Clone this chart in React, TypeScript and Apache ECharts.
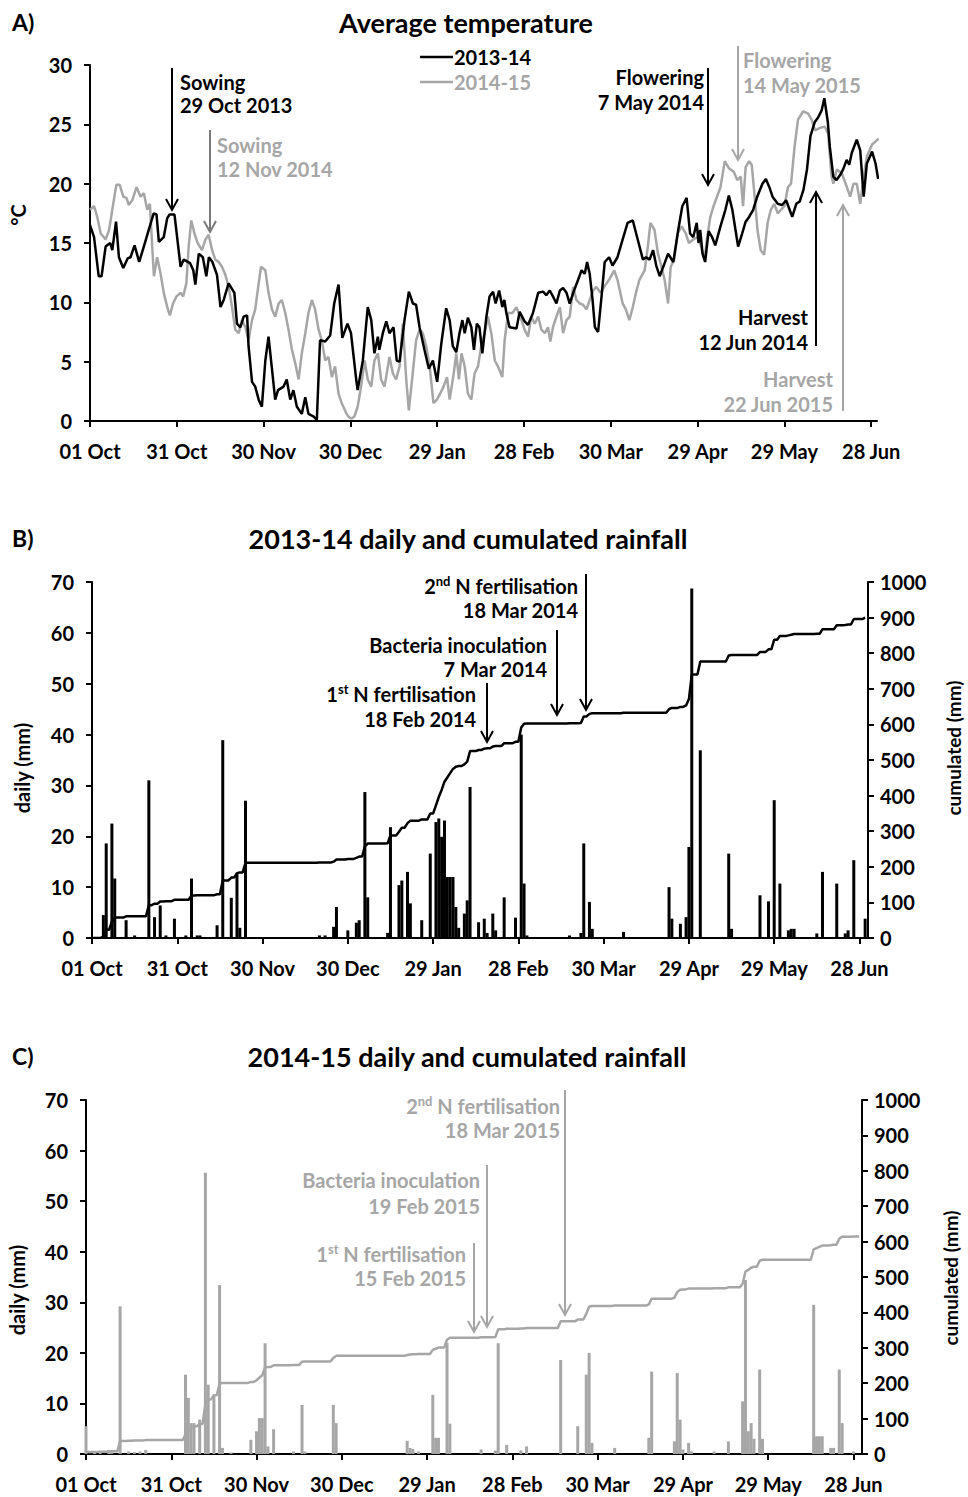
import React, { useEffect, useRef } from "react";
import * as echarts from "echarts";

const FONT = "Lato";
const BLACK = "#000000";
const GRAY = "#a6a6a6";
const DARKGRAY = "#7a7a7a";

const tickDays = [0, 30, 60, 90, 120, 150, 180, 210, 240, 270];
const tickLabels = ["01 Oct", "31 Oct", "30 Nov", "30 Dec", "29 Jan", "28 Feb", "30 Mar", "29 Apr", "29 May", "28 Jun"];

// Panel A: average temperature, 2013-14 (days from 01 Oct)
const temp1314Days = [0,1.4,3,4,5.4,7,7.7,9,10,11.5,13,14,15.4,17,18.6,20.3,22,23,23.8,25.5,26.7,27.5,29.2,31.3,32.4,34.6,35.7,36.4,37.6,39,40.2,41.1,42.3,43.9,45.1,46.2,47.9,49.9,50.8,52,53.1,54.3,54.8,56,57.1,58.3,59.4,60.6,61.7,62.8,64,65,66.9,68,69.2,70.3,71.5,73.2,74.4,75.5,77.2,78.4,79.5,81.3,83,84.4,85.9,87.2,89,90.2,92,92.5,94.3,96,97.2,98.3,99.5,100,101.2,102.4,103.5,104.9,106,107,108.7,110.2,111.6,112.7,113.9,115.6,117.1,118.5,120,121.4,123.1,124.3,125.4,126.6,127.7,128.7,129.5,130.6,131.8,132.7,133.7,134.6,135.6,137,138.1,139.3,140.2,141.4,142.5,143.2,143.9,145,147.4,148.5,150.2,151.4,153.1,154.9,156.6,157.7,158.9,160,161.2,162.4,163.5,164.7,165.8,167,168.7,169.9,171,171.8,172.7,173.7,174.5,175.6,176.8,177.9,179.4,180.6,182.3,184.1,185.8,187.6,189.3,191.1,192.2,193.4,194.6,195.7,196.9,198.6,199.8,201.6,203.3,204.7,206.2,207.4,208.5,209.7,210.3,210.9,211.7,212.6,213.8,215,216.1,217.9,219.6,220.8,222,223.1,224,225.4,226.6,227.8,229.2,230.6,232.4,233.6,234.8,235.9,237.7,239.2,240.6,241.8,242.7,244.1,245.3,246.6,247.8,249,250.5,251.7,252.9,253.8,255,255.7,256.9,258,259.2,260.3,261.5,262.4,263.3,265,266.2,267.4,268.5,270.3,271.5,272.4];
const temp1314 = [16.5,15.5,12.2,12.2,14.7,15.0,14.4,16.8,13.8,12.9,13.7,13.8,14.8,13.4,14.7,16.1,17.5,17.4,15.1,15.5,17.1,17.4,17.4,13.0,13.6,13.3,12.7,11.5,14.1,13.8,12.2,13.8,13.4,12.3,9.6,10.2,11.6,10.8,8.2,7.9,8.8,8.9,6.3,3.3,2.9,1.8,1.2,5.1,7.1,4.6,1.8,2.6,2.9,3.5,1.8,2.6,1.2,0.6,2.0,0.6,0.4,0.1,6.8,6.7,7.2,9.9,11.5,7.0,8.2,7.4,3.5,2.6,5.1,9.6,8.5,5.7,7.1,6.0,7.4,8.4,7.4,7.9,5.1,5.0,8.5,10.9,9.9,9.8,7.9,6.0,4.4,5.1,3.3,6.5,9.5,8.5,6.3,5.8,7.4,8.5,7.4,8.7,7.9,6.0,8.2,7.9,5.7,8.8,10.5,10.9,9.9,11.0,9.6,10.2,9.1,7.9,7.8,9.2,8.4,8.1,9.1,10.8,10.9,10.6,11.0,10.5,9.9,11.0,11.2,10.8,9.9,10.8,11.9,12.7,12.4,13.4,12.4,10.2,7.9,7.5,10.5,13.4,13.8,13.1,13.8,15.3,16.7,16.9,15.3,13.6,13.8,13.6,14.4,13.1,12.2,13.3,14.1,13.4,16.1,18.1,18.8,15.8,15.5,16.7,15.0,16.1,14.1,13.4,16.0,15.5,14.8,16.4,17.8,19.0,17.8,16.1,14.7,15.8,16.8,17.2,17.8,18.9,20.0,20.4,19.7,18.9,18.3,18.2,18.6,17.8,17.2,18.3,18.5,19.5,21.2,24.0,25.2,25.6,26.2,27.2,25.2,23.1,20.6,20.3,20.7,21.2,22.0,21.6,22.6,23.7,22.8,18.9,21.7,22.7,21.7,20.4];

// Panel A: average temperature, 2014-15
const temp1415Days = [0,1.4,2.5,3.7,5.4,6.6,7.7,9.1,10.3,11.5,12.6,13.4,14.6,16.1,17.5,18.6,19.8,20.7,21.5,22.1,23.2,24.4,25.5,26.7,27.6,28.7,29.9,31.3,32.2,33.3,34.1,35,36.1,37.2,38.7,39.9,41,42.2,43.3,44.5,45.6,46.8,47.9,49.1,50.2,51.4,52.5,53.7,54.8,56,57.1,58.3,59.1,60.6,61.7,62.9,64,65.2,66.3,67.5,68.6,69.8,70.9,72.1,73.2,74.4,75.5,76.7,77.8,79,80.1,81.3,82.4,83.6,84.7,85.9,87,88.7,89.6,90.5,91.4,92.5,93.7,94.9,96,97.2,98.3,99.5,100.6,101.8,103.5,104.7,105.8,107,108.1,109.3,110.2,111.4,112.7,113.9,115,116.2,117.4,118.7,119.9,121,122.2,123.4,124.3,125.7,126.6,127.5,128.4,129.5,130.6,131.8,132.9,134.1,135.2,136.4,137.5,138.7,139.9,141,142.5,143.3,144.5,146,147.4,149.1,150.2,151.4,152.5,153.7,154.9,156,157.2,158.3,159.1,160,161.2,162.4,163.5,164.7,165.8,167,168.1,169.3,170.4,171.6,172.7,173.9,175,176.5,177.7,179.4,181.2,182.3,184.1,185.2,186.4,187.6,188.7,189.9,191.7,192.8,193.7,195.1,196.3,197.5,198.6,199.8,200.7,201.9,203.1,204.5,205.9,207,208.5,210,211.2,212.4,213.2,214.4,215.5,216.7,217.9,219.4,220.8,222.5,223.7,224.9,225.7,226.6,227.8,228.7,229.5,230.7,231.8,233,234.2,235.3,236.5,237.7,238.8,240,241.2,242.3,243.5,244.7,246.5,248.2,249.4,250.6,252.3,254,255.1,256.3,256.9,258.1,259.8,261.6,262.7,263.9,265,266.2,267.4,268.5,270.3,272.6];
const temp1415 = [17.8,18.1,17.2,15.8,15.3,16.1,17.8,19.9,19.9,18.9,18.8,18.2,18.6,19.7,18.9,19.2,17.8,18.3,14.7,12.2,13.8,12.4,10.8,9.6,8.9,9.9,10.5,10.8,10.5,11.6,14.7,16.9,15.8,15.0,14.4,15.3,15.7,14.4,13.6,13.4,13.0,12.3,11.3,9.6,7.7,7.4,8.5,7.9,6.8,8.5,9.4,11.6,13.0,12.7,10.8,9.4,8.8,9.9,10.2,9.1,7.7,6.0,4.9,3.5,5.7,7.4,9.1,10.2,9.4,7.7,6.8,5.1,5.4,3.7,4.6,2.3,1.5,0.6,0.3,0.2,0.4,1.2,2.9,5.1,3.5,2.9,5.1,5.7,3.5,2.9,5.4,4.0,3.5,4.6,8.2,3.5,0.9,3.7,6.8,7.7,7.4,6.3,4.6,1.5,1.8,2.3,2.9,3.7,1.8,4.0,5.7,3.5,5.7,4.6,2.3,1.8,4.0,4.6,6.3,7.4,8.8,7.4,5.1,4.6,3.7,6.8,9.1,9.1,9.6,8.5,7.7,7.1,8.8,8.2,8.8,7.7,7.4,7.9,6.7,7.9,8.8,9.6,7.4,8.5,8.8,11.3,10.2,9.9,9.8,9.4,10.2,11.0,11.3,10.8,11.3,11.9,12.7,11.9,9.9,9.4,8.5,9.6,10.8,11.9,12.7,14.7,16.7,16.1,14.1,13.0,11.9,9.9,13.0,13.6,15.8,16.4,15.8,15.0,15.3,15.5,14.7,13.6,15.3,17.2,18.1,18.9,19.7,21.9,21.3,21.0,20.3,20.6,18.1,21.4,21.9,21.6,19.5,16.1,14.4,14.0,16.7,17.8,18.3,17.5,17.8,18.1,19.7,20.0,23.1,25.4,26.1,25.9,25.4,24.5,24.7,24.8,24.2,20.6,20.0,21.2,20.9,19.7,18.9,20.0,20.0,18.3,20.6,22.3,23.3,23.8];

// Panel B: daily rainfall 2013-14 [day from 01 Oct, mm]
const rain1314: [number, number][] = [[4,4.5],[5,18.6],[7,22.5],[8,11.7],[12,3.5],[15,0.5],[20,31],[22,4.1],[24,6.4],[26,0.5],[29,3.8],[33,0.5],[35,11.7],[37,0.5],[38,0.5],[44,2.5],[46,38.9],[49,7.9],[51,12.7],[52,2],[54,27],[80,0.5],[82,0.5],[85,2.2],[86,6.1],[90,1.5],[93,3],[94,3.5],[96,28.7],[97,8],[104,1],[105,21.8],[108,10.4],[109,11.3],[111,13],[112,6.8],[116,3.5],[119,16.6],[121,22.8],[122,23.5],[123,19.9],[124,23.1],[125,12],[126,12],[127,12],[128,6.1],[129,2],[131,4.8],[132,7.4],[133,29.7],[136,3.1],[138,3.8],[139,1],[141,4.8],[142,1.5],[145,8],[149,4],[151,40],[152,10.7],[153,0.5],[168,0.5],[172,1],[173,18.6],[175,7.1],[176,1.8],[187,1.2],[203,10],[204,3.8],[207,2.8],[209,4.1],[210,17.9],[211,68.7],[214,36.9],[224,16.6],[225,1.8],[235,8.4],[238,7.2],[240,27.1],[242,10.7],[245,1.5],[246,1.8],[247,1.8],[255,0.9],[257,13],[262,10.7],[265,0.9],[266,1.5],[268,15.3],[272,3.8]];

// Panel C: daily rainfall 2014-15 [day from 01 Oct, mm]
const rain1415: [number, number][] = [[0,5.5],[3,0.5],[5,0.5],[8,0.8],[9,0.5],[12,29.2],[15,0.5],[17,0.4],[19,0.5],[21,0.8],[35,15.7],[36,11.1],[37,6.1],[38,6.1],[40,6.8],[42,55.6],[43,13.7],[45,11.7],[47,33.4],[48,1.2],[51,0.3],[58,2.8],[60,4.5],[61,7.1],[62,7.1],[63,21.9],[64,1.5],[66,4.9],[73,0.5],[76,9.7],[77,0.5],[87,9.7],[88,6.1],[113,2.6],[114,1.2],[115,1],[117,0.5],[122,11.7],[123,3.2],[124,3.2],[127,22],[128,6],[139,0.9],[144,0.7],[145,21.9],[148,1.8],[153,0.7],[155,1.5],[167,18.6],[173,5.5],[176,15.7],[177,20],[178,2.2],[186,1.2],[198,3.2],[199,16.3],[207,2.5],[208,16],[209,6.8],[210,0.9],[212,2.2],[213,0.5],[221,0.5],[226,2.5],[231,10.4],[232,34.4],[233,4.5],[234,6.1],[235,3],[237,16.7],[238,3],[256,29.5],[257,3.5],[258,3.5],[259,3.5],[262,1.2],[263,1.2],[265,16.7],[266,6.1],[270,0.5]];

const LAST_DAY = 272;

function zip(xs: number[], ys: number[]) {
  return xs.map((x, i) => [x, ys[i]]);
}

function cumulate(events: [number, number][], last: number) {
  const out: number[][] = [];
  let s = 0;
  for (let d = 0; d <= last; d++) {
    for (const [day, mm] of events) if (day === d) s += mm;
    out.push([d, Math.round(s * 10) / 10]);
  }
  return out;
}

const labelFont = { fontFamily: FONT, fontWeight: "bold" as const, fontSize: 20, color: BLACK };

function xAxisFor(gridIndex: number, max: number) {
  return {
    type: "value",
    gridIndex,
    min: 0,
    max,
    interval: 30,
    axisLine: { show: true, lineStyle: { color: BLACK, width: 2 } },
    axisTick: { show: true, length: 6, customValues: tickDays, lineStyle: { color: BLACK, width: 2 } },
    axisLabel: {
      ...labelFont,
      margin: 20,
      customValues: tickDays,
      formatter: (v: number) => {
        const i = tickDays.indexOf(v);
        return i >= 0 ? tickLabels[i] : "";
      },
    },
    splitLine: { show: false },
  };
}

function yAxisFor(gridIndex: number, max: number, interval: number, position: "left" | "right") {
  return {
    type: "value",
    gridIndex,
    position,
    min: 0,
    max,
    interval,
    axisLine: { show: true, lineStyle: { color: BLACK, width: 2 } },
    axisTick: { show: true, length: 6, lineStyle: { color: BLACK, width: 2 } },
    axisLabel: { ...labelFont, margin: position === "left" ? 18 : 12, formatter: (v: number) => String(v) },
    splitLine: { show: false },
  };
}

function txt(x: number, y: number, text: string, color: string, align = "left", size = 20, rotation = 0) {
  return {
    type: "text",
    x,
    y,
    rotation,
    style: {
      text,
      fill: color,
      fontFamily: FONT,
      fontWeight: "bold",
      fontSize: size,
      align,
      verticalAlign: "middle",
    },
  };
}

function supTxt(x: number, y: number, num: string, sup: string, rest: string, color: string) {
  return {
    type: "text",
    x,
    y,
    style: {
      text: `{n|${num}}{s|${sup}}{n|${rest}}`,
      align: "right",
      verticalAlign: "middle",
      rich: {
        n: { fill: color, fontFamily: FONT, fontWeight: "bold", fontSize: 20, verticalAlign: "bottom", lineHeight: 22 },
        s: { fill: color, fontFamily: FONT, fontWeight: "bold", fontSize: 13, verticalAlign: "top", lineHeight: 22 },
      },
    },
  };
}

function arrow(x: number, yTail: number, yTip: number, color: string) {
  const dir = yTip > yTail ? 1 : -1;
  return [
    { type: "line", shape: { x1: x, y1: yTail, x2: x, y2: yTip }, style: { stroke: color, lineWidth: 2 } },
    {
      type: "polyline",
      shape: { points: [[x - 6, yTip - dir * 11], [x, yTip], [x + 6, yTip - dir * 11]] },
      style: { stroke: color, lineWidth: 2, fill: null },
    },
  ];
}

export default function App() {
  const ref = useRef<HTMLDivElement>(null);

  useEffect(() => {
    document.body.style.margin = "0";
    if (!ref.current) return;
    const chart = echarts.init(ref.current, undefined, { renderer: "svg" });

    const graphics: any[] = [
      // Panel A
      txt(12, 22, "A)", BLACK, "left", 23),
      txt(466, 22, "Average temperature", BLACK, "center", 27),
      { type: "line", shape: { x1: 420, y1: 57, x2: 453, y2: 57 }, style: { stroke: BLACK, lineWidth: 2.5 } },
      txt(454, 57, "2013-14", BLACK),
      { type: "line", shape: { x1: 420, y1: 82, x2: 453, y2: 82 }, style: { stroke: GRAY, lineWidth: 2.5 } },
      txt(454, 82, "2014-15", GRAY),
      txt(18, 215, "°C", BLACK, "center", 20, Math.PI / 2),
      txt(180, 82, "Sowing", BLACK),
      txt(180, 105, "29 Oct 2013", BLACK),
      ...arrow(172, 68, 210, BLACK),
      txt(217, 145, "Sowing", GRAY),
      txt(217, 169, "12 Nov 2014", GRAY),
      ...arrow(210, 130, 232, DARKGRAY),
      txt(704, 77, "Flowering", BLACK, "right"),
      txt(704, 102, "7 May 2014", BLACK, "right"),
      ...arrow(708, 68, 185, BLACK),
      txt(743, 60, "Flowering", GRAY),
      txt(743, 85, "14 May 2015", GRAY),
      ...arrow(738, 46, 160, GRAY),
      txt(808, 317, "Harvest", BLACK, "right"),
      txt(808, 342, "12 Jun 2014", BLACK, "right"),
      ...arrow(816, 346, 192, BLACK),
      txt(833, 379, "Harvest", GRAY, "right"),
      txt(833, 404, "22 Jun 2015", GRAY, "right"),
      ...arrow(843, 411, 205, GRAY),

      // Panel B
      txt(12, 538, "B)", BLACK, "left", 23),
      txt(468, 538, "2013-14 daily and cumulated rainfall", BLACK, "center", 27),
      txt(22, 768, "daily (mm)", BLACK, "center", 20, Math.PI / 2),
      txt(953, 748, "cumulated (mm)", BLACK, "center", 19, Math.PI / 2),
      supTxt(578, 585, "2", "nd", " N fertilisation", BLACK),
      txt(578, 610, "18 Mar 2014", BLACK, "right"),
      ...arrow(586, 574, 710, BLACK),
      txt(547, 645, "Bacteria inoculation", BLACK, "right"),
      txt(547, 669, "7 Mar 2014", BLACK, "right"),
      ...arrow(557, 630, 715, BLACK),
      supTxt(476, 693, "1", "st", " N fertilisation", BLACK),
      txt(476, 719, "18 Feb 2014", BLACK, "right"),
      ...arrow(487, 683, 742, BLACK),

      // Panel C
      txt(12, 1056, "C)", BLACK, "left", 23),
      txt(467, 1056, "2014-15 daily and cumulated rainfall", BLACK, "center", 27),
      txt(17, 1290, "daily (mm)", BLACK, "center", 20, Math.PI / 2),
      txt(950, 1278, "cumulated (mm)", BLACK, "center", 19, Math.PI / 2),
      supTxt(560, 1105, "2", "nd", " N fertilisation", GRAY),
      txt(560, 1130, "18 Mar 2015", GRAY, "right"),
      ...arrow(565, 1090, 1315, GRAY),
      txt(480, 1180, "Bacteria inoculation", GRAY, "right"),
      txt(480, 1206, "19 Feb 2015", GRAY, "right"),
      ...arrow(487, 1165, 1327, GRAY),
      supTxt(466, 1253, "1", "st", " N fertilisation", GRAY),
      txt(466, 1278, "15 Feb 2015", GRAY, "right"),
      ...arrow(474, 1243, 1332, GRAY),
    ];

    const option: any = {
      animation: false,
      backgroundColor: "#ffffff",
      grid: [
        { left: 90, top: 65, width: 787, height: 356 },
        { left: 92, top: 582, width: 776, height: 356 },
        { left: 86, top: 1100, width: 776, height: 354 },
      ],
      xAxis: [xAxisFor(0, 272), xAxisFor(1, 273), xAxisFor(2, 273)],
      yAxis: [
        yAxisFor(0, 30, 5, "left"),
        yAxisFor(1, 70, 10, "left"),
        yAxisFor(1, 1000, 100, "right"),
        yAxisFor(2, 70, 10, "left"),
        yAxisFor(2, 1000, 100, "right"),
      ],
      series: [
        {
          name: "2014-15",
          type: "line",
          xAxisIndex: 0,
          yAxisIndex: 0,
          data: zip(temp1415Days, temp1415),
          showSymbol: false,
          lineStyle: { color: GRAY, width: 2.5 },
          itemStyle: { color: GRAY },
        },
        {
          name: "2013-14",
          type: "line",
          xAxisIndex: 0,
          yAxisIndex: 0,
          data: zip(temp1314Days, temp1314),
          showSymbol: false,
          lineStyle: { color: BLACK, width: 2.5 },
          itemStyle: { color: BLACK },
        },
        {
          name: "daily 2013-14",
          type: "bar",
          xAxisIndex: 1,
          yAxisIndex: 1,
          data: rain1314,
          barWidth: 3,
          itemStyle: { color: BLACK },
        },
        {
          name: "cumulated 2013-14",
          type: "line",
          xAxisIndex: 1,
          yAxisIndex: 2,
          data: cumulate(rain1314, LAST_DAY),
          showSymbol: false,
          lineStyle: { color: BLACK, width: 2.5 },
          itemStyle: { color: BLACK },
        },
        {
          name: "daily 2014-15",
          type: "bar",
          xAxisIndex: 2,
          yAxisIndex: 3,
          data: rain1415,
          barWidth: 3,
          itemStyle: { color: GRAY },
        },
        {
          name: "cumulated 2014-15",
          type: "line",
          xAxisIndex: 2,
          yAxisIndex: 4,
          data: cumulate(rain1415, LAST_DAY),
          showSymbol: false,
          lineStyle: { color: GRAY, width: 2.5 },
          itemStyle: { color: GRAY },
        },
      ],
      graphic: graphics,
    };

    chart.setOption(option);
    return () => chart.dispose();
  }, []);

  return <div ref={ref} style={{ width: 968, height: 1497 }} />;
}
